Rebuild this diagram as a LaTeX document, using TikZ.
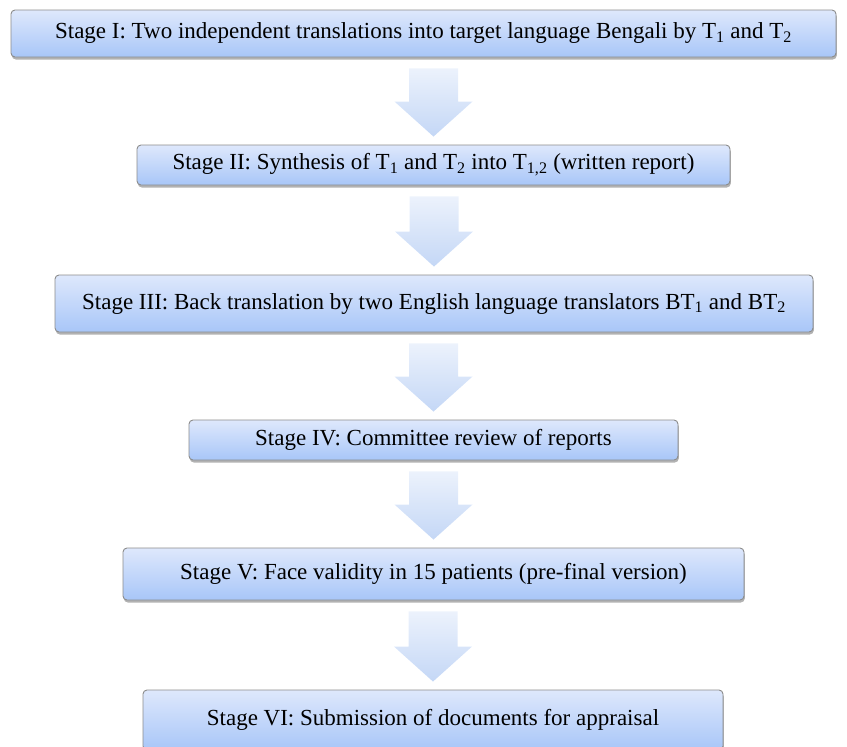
\documentclass[tikz,border=0pt]{standalone}
\usepackage{fontspec}
\setmainfont{Liberation Serif}
\usetikzlibrary{calc,shadows}

\definecolor{boxtop}{RGB}{222,232,252}
\definecolor{boxbot}{RGB}{168,198,248}
\definecolor{boxedge}{RGB}{140,140,140}
\definecolor{arrtop}{RGB}{236,242,252}
\definecolor{arrbot}{RGB}{196,215,246}

\tikzset{
  stagebox/.style={draw=boxedge, line width=0.9pt, rounded corners=4pt,
    top color=boxtop, bottom color=boxbot, inner sep=0pt,
    drop shadow={shadow xshift=0.8pt, shadow yshift=-2.5pt, fill=black, opacity=0.3},
    font=\fontsize{23}{26}\selectfont},
  flowarrow/.style={top color=arrtop, bottom color=arrbot, draw=none}
}

% block arrow from the bottom of one stage to the top of the next
\newcommand{\stagearrow}[2]{%
  \path[flowarrow] let \p1=(#1.south), \p2=(#2.north) in
    (\x2-24.5pt,\y1-11pt) -- (\x2+24.5pt,\y1-11pt) -- (\x2+24.5pt,\y2+43pt)
    -- (\x2+39pt,\y2+43pt) -- (\x2,\y2+8pt) -- (\x2-39pt,\y2+43pt)
    -- (\x2-24.5pt,\y2+43pt) -- cycle;}

\begin{document}
\begin{tikzpicture}[x=1pt,y=-1pt]
  \useasboundingbox (0,0) rectangle (847,747);

  \node[stagebox, minimum width=825pt, minimum height=47pt] (stage1) at (423.5,33.5)
    {Stage I: Two independent translations into target language Bengali by T\textsubscript{1} and T\textsubscript{2}};
  \node[stagebox, minimum width=593pt, minimum height=40pt] (stage2) at (433.5,165)
    {Stage II: Synthesis of T\textsubscript{1} and T\textsubscript{2} into T\textsubscript{1,2} (written report)};
  \node[stagebox, minimum width=758pt, minimum height=57pt] (stage3) at (434,303.5)
    {Stage III: Back translation by two English language translators BT\textsubscript{1} and BT\textsubscript{2}};
  \node[stagebox, minimum width=489pt, minimum height=40pt] (stage4) at (433.5,440)
    {Stage IV: Committee review of reports};
  \node[stagebox, minimum width=621pt, minimum height=52pt] (stage5) at (433.5,574)
    {Stage V: Face validity in 15 patients (pre-final version)};
  \node[stagebox, minimum width=580pt, minimum height=60pt] (stage6) at (433,720)
    {Stage VI: Submission of documents for appraisal};

  \stagearrow{stage1}{stage2}
  \stagearrow{stage2}{stage3}
  \stagearrow{stage3}{stage4}
  \stagearrow{stage4}{stage5}
  \stagearrow{stage5}{stage6}
\end{tikzpicture}
\end{document}
